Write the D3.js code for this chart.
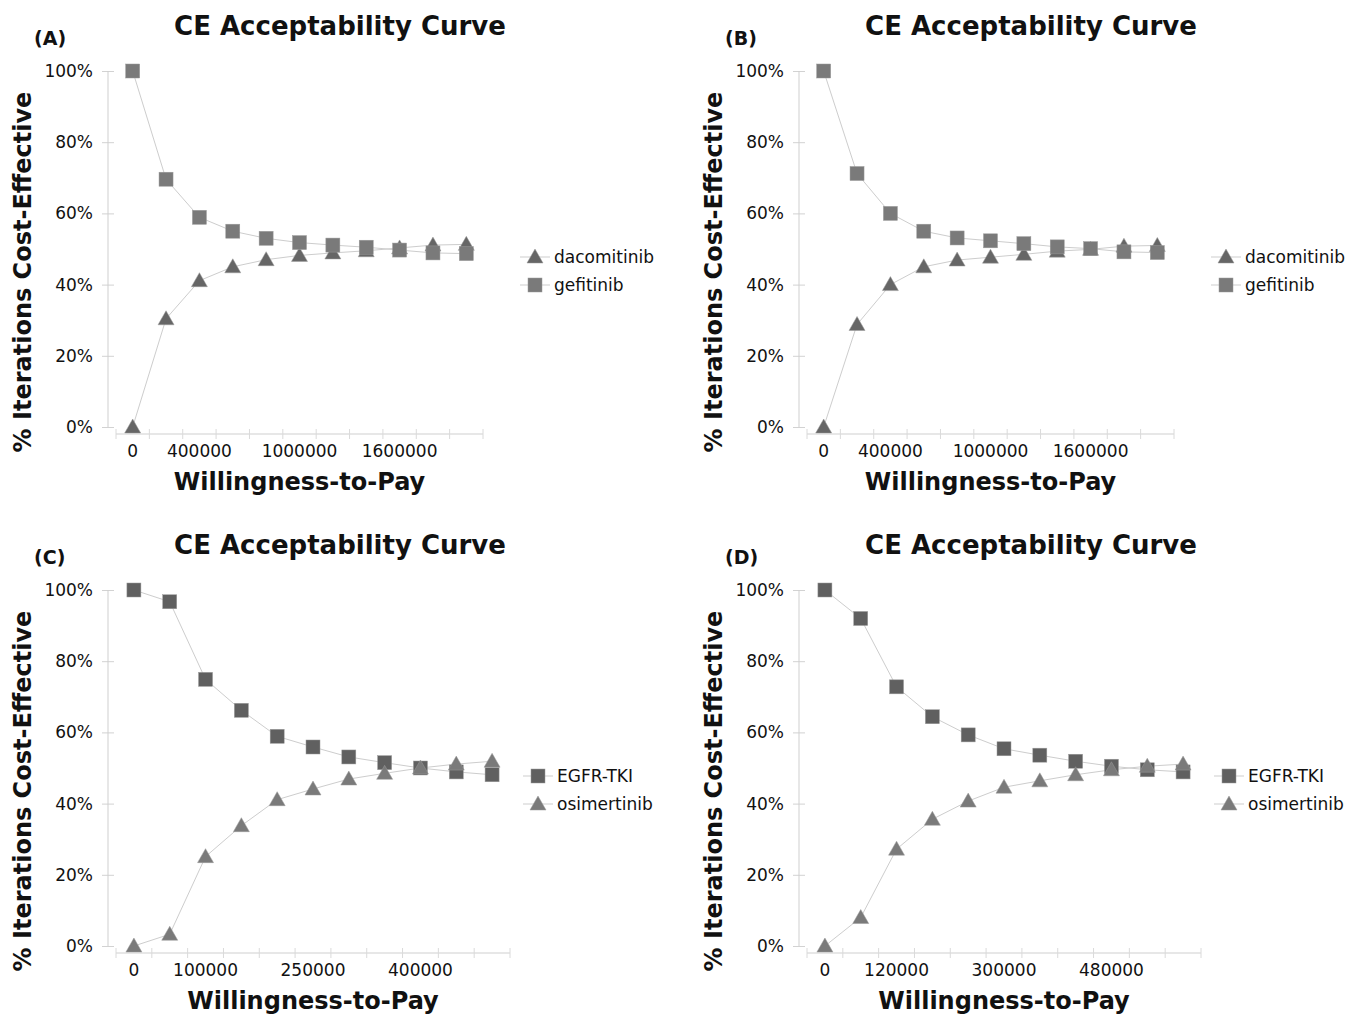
<!DOCTYPE html>
<html>
<head>
<meta charset="utf-8">
<script src="https://cdn.jsdelivr.net/npm/d3@7"></script>
<style>
  body { margin: 0; background: #fff; }
  text { font-family: "DejaVu Sans", Verdana, sans-serif; fill: #111; }
</style>
</head>
<body>
<div id="chart-area"></div>
<script>
// willingness-to-pay categories
var wtpAB = [0, 200000, 400000, 600000, 800000, 1000000, 1200000, 1400000, 1600000, 1800000, 2000000];
var wtpC = [0, 50000, 100000, 150000, 200000, 250000, 300000, 350000, 400000, 450000, 500000];
var wtpD = [0, 60000, 120000, 180000, 240000, 300000, 360000, 420000, 480000, 540000, 600000];

var labelsAB = [0, 400000, 1000000, 1600000];
var labelsC = [0, 100000, 250000, 400000];
var labelsD = [0, 120000, 300000, 480000];

var yTicks = [0, 20, 40, 60, 80, 100];

// % iterations cost-effective
var dacomitinibA = [0, 30.4, 41.1, 45.0, 47.0, 48.2, 48.9, 49.5, 50.3, 51.1, 51.3];
var gefitinibA   = [100, 69.6, 58.9, 55.0, 53.0, 51.8, 51.1, 50.5, 49.7, 48.9, 48.7];
var dacomitinibB = [0, 28.8, 40.0, 45.0, 46.9, 47.7, 48.5, 49.4, 49.9, 50.8, 51.0];
var gefitinibB   = [100, 71.2, 60.0, 55.0, 53.1, 52.3, 51.5, 50.6, 50.1, 49.2, 49.0];
var egfrC        = [100, 96.7, 74.9, 66.2, 58.9, 55.9, 53.1, 51.5, 50.0, 48.9, 48.1];
var osimertinibC = [0, 3.3, 25.1, 33.8, 41.1, 44.1, 46.9, 48.5, 50.0, 51.1, 51.9];
var egfrD        = [100, 92.0, 72.8, 64.4, 59.3, 55.4, 53.6, 51.9, 50.5, 49.5, 48.9];
var osimertinibD = [0, 8.0, 27.2, 35.6, 40.7, 44.6, 46.4, 48.1, 49.5, 50.5, 51.1];

var panels = [
  { tag: "(A)", dx: 0, dy: 0, xEnd: 483, legX: 535, wtp: wtpAB, labels: labelsAB,
    series: [
      { name: "dacomitinib", shape: "tri", color: "#666666", values: dacomitinibA },
      { name: "gefitinib", shape: "sq", color: "#7a7a7a", values: gefitinibA }
    ] },
  { tag: "(B)", dx: 691, dy: 0, xEnd: 483, legX: 535, wtp: wtpAB, labels: labelsAB,
    series: [
      { name: "dacomitinib", shape: "tri", color: "#666666", values: dacomitinibB },
      { name: "gefitinib", shape: "sq", color: "#7a7a7a", values: gefitinibB }
    ] },
  { tag: "(C)", dx: 0, dy: 519, xEnd: 510, legX: 538, wtp: wtpC, labels: labelsC,
    series: [
      { name: "EGFR-TKI", shape: "sq", color: "#606060", values: egfrC },
      { name: "osimertinib", shape: "tri", color: "#7a7a7a", values: osimertinibC }
    ] },
  { tag: "(D)", dx: 691, dy: 519, xEnd: 510, legX: 538, wtp: wtpD, labels: labelsD,
    series: [
      { name: "EGFR-TKI", shape: "sq", color: "#606060", values: egfrD },
      { name: "osimertinib", shape: "tri", color: "#7a7a7a", values: osimertinibD }
    ] }
];

var svg = d3.select("#chart-area")
  .append("svg")
    .attr("width", 1354)
    .attr("height", 1014);

var triPath = "M0,-8L8,6L-8,6Z";

function marker(sel, shape, color) {
  if (shape === "sq") {
    sel.append("rect")
      .attr("x", -7).attr("y", -7)
      .attr("width", 14).attr("height", 14)
      .attr("fill", color)
      .attr("stroke", "#9a9a9a").attr("stroke-width", 0.5);
  } else {
    sel.append("path")
      .attr("d", triPath)
      .attr("fill", color)
      .attr("stroke", "#9a9a9a").attr("stroke-width", 0.5);
  }
}

panels.forEach(function(p) {
  var g = svg.append("g")
    .attr("transform", "translate(" + p.dx + "," + p.dy + ")");

  var x = d3.scaleBand()
    .domain(p.wtp)
    .range([116, p.xEnd])
    .paddingInner(0).paddingOuter(0);
  var cx = function(d) { return x(d) + x.bandwidth() / 2; };

  var y = d3.scaleLinear()
    .domain([0, 100])
    .range([427, 71]);

  // Titles
  g.append("text")
    .attr("x", 340).attr("y", 35)
    .attr("text-anchor", "middle")
    .attr("font-size", "26px")
    .attr("font-weight", "bold")
    .text("CE Acceptability Curve");
  g.append("text")
    .attr("x", 34).attr("y", 45)
    .attr("font-size", "19px")
    .attr("font-weight", "bold")
    .text(p.tag);
  g.append("text")
    .attr("transform", "translate(31,272) rotate(-90)")
    .attr("text-anchor", "middle")
    .attr("font-size", "24px")
    .attr("font-weight", "bold")
    .text("% Iterations Cost-Effective");
  g.append("text")
    .attr("x", (116 + p.xEnd) / 2).attr("y", 490)
    .attr("text-anchor", "middle")
    .attr("font-size", "24px")
    .attr("font-weight", "bold")
    .text("Willingness-to-Pay");

  // Y axis
  var yAxisCall = d3.axisLeft(y)
    .tickValues(yTicks)
    .tickSize(0)
    .tickPadding(15)
    .tickFormat(function(d) { return d + "%"; });
  var yAxis = g.append("g")
    .attr("class", "y axis")
    .attr("transform", "translate(108,0)")
    .call(yAxisCall);
  yAxis.select(".domain").remove();
  yAxis.selectAll("line").attr("x1", -6).attr("x2", 6).attr("stroke", "#d2d2d2");
  yAxis.selectAll("text").attr("font-size", "17px").attr("font-family", "DejaVu Sans").attr("fill", "#111");
  g.append("line")
    .attr("x1", 108).attr("x2", 108)
    .attr("y1", y(100)).attr("y2", y(0))
    .attr("stroke", "#cfcfcf");

  // X axis
  var xAxisCall = d3.axisBottom(x)
    .tickValues(p.labels)
    .tickSize(0)
    .tickPadding(11)
    .tickFormat(function(d) { return d; });
  var xAxis = g.append("g")
    .attr("class", "x axis")
    .attr("transform", "translate(0,434)")
    .call(xAxisCall);
  xAxis.select(".domain").remove();
  xAxis.selectAll("text").attr("font-size", "17px").attr("font-family", "DejaVu Sans").attr("fill", "#111");
  g.append("line")
    .attr("x1", 116).attr("x2", p.xEnd)
    .attr("y1", 434).attr("y2", 434)
    .attr("stroke", "#cfcfcf");
  var bounds = p.wtp.map(function(d) { return x(d); }).concat([p.xEnd]);
  g.selectAll(".xtick")
    .data(bounds)
    .enter().append("line")
      .attr("class", "xtick")
      .attr("x1", function(d) { return d; })
      .attr("x2", function(d) { return d; })
      .attr("y1", 429).attr("y2", 439)
      .attr("stroke", "#dadada");

  // Series
  var line = d3.line()
    .x(function(d, i) { return cx(p.wtp[i]); })
    .y(function(d) { return y(d); });

  p.series.forEach(function(s) {
    g.append("path")
      .datum(s.values)
      .attr("fill", "none")
      .attr("stroke", "#cdcdcd")
      .attr("stroke-width", 1)
      .attr("d", line);
  });
  p.series.forEach(function(s) {
    s.values.forEach(function(v, i) {
      var m = g.append("g")
        .attr("transform", "translate(" + cx(p.wtp[i]) + "," + y(v) + ")");
      marker(m, s.shape, s.color);
    });
  });

  // Legend
  var legend = g.append("g")
    .attr("transform", "translate(" + p.legX + ",257)");
  p.series.forEach(function(s, i) {
    var row = legend.append("g")
      .attr("transform", "translate(0," + (i * 28) + ")");
    row.append("line")
      .attr("x1", -15).attr("x2", 15)
      .attr("stroke", "#cdcdcd");
    marker(row, s.shape, s.color);
    row.append("text")
      .attr("x", 19).attr("y", 6)
      .attr("font-size", "17px")
      .text(s.name);
  });
});
</script>
</body>
</html>
